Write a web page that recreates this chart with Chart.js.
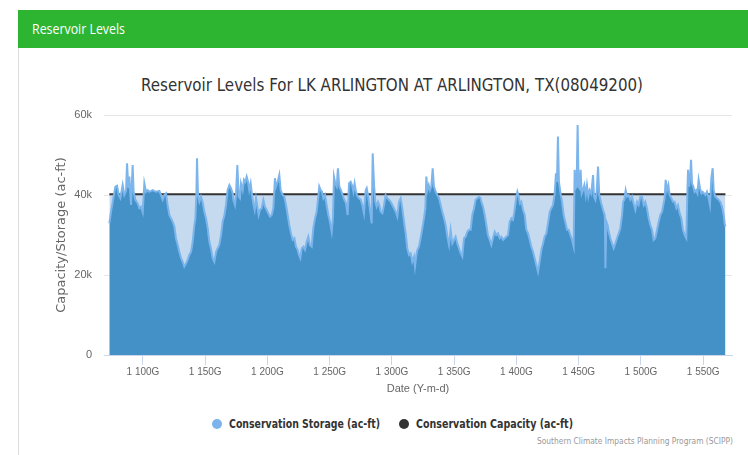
<!DOCTYPE html>
<html>
<head>
<meta charset="utf-8">
<script src="https://cdn.jsdelivr.net/npm/chart.js@4.4.1/dist/chart.umd.min.js"></script>
<style>
  html, body { margin:0; padding:0; background:#fff; width:748px; height:455px; overflow:hidden; }
  #wrap { position:relative; width:748px; height:455px; }
  #header { position:absolute; left:18px; top:10px; width:740px; height:38px; background:#2db431; }
  #panel { position:absolute; left:18px; top:48px; width:740px; height:420px; border-left:1px solid #dcdcdc; }
  .txt { position:absolute; white-space:nowrap; transform-origin:0 50%; }
  #htext { left:32px; top:19px; height:20px; line-height:20px; font-family:"Open Sans",sans-serif; font-size:14px; color:#fff; }
  #title { left:141px; top:73px; height:24px; line-height:24px; font-family:"DejaVu Sans",sans-serif; font-size:18px; color:#333; }
  .leg { top:416px; height:16px; line-height:16px; font-family:"DejaVu Sans",sans-serif; font-size:12px; font-weight:bold; color:#333; }
  .dot { position:absolute; width:10px; height:10px; border-radius:5px; top:419px; }
  #credits { left:537px; top:435px; height:12px; line-height:12px; font-family:"DejaVu Sans",sans-serif; font-size:9px; color:#999; }
  canvas { position:absolute; left:0; top:0; }
</style>
</head>
<body>
<div id="wrap">
  <div id="panel"></div>
  <div id="header"></div>
  <div class="txt" id="htext" data-w="93">Reservoir Levels</div>
  <div class="txt" id="title" data-w="502">Reservoir Levels For LK ARLINGTON AT ARLINGTON, TX(08049200)</div>
  <div class="dot" style="left:212px;background:#7cb5ec"></div>
  <div class="txt leg" style="left:229px" data-w="151">Conservation Storage (ac-ft)</div>
  <div class="dot" style="left:399px;background:#333333"></div>
  <div class="txt leg" style="left:416px" data-w="157">Conservation Capacity (ac-ft)</div>
  <div class="txt" id="credits" data-w="196">Southern Climate Impacts Planning Program (SCIPP)</div>
  <canvas id="c" width="748" height="455"></canvas>
</div>
<script>
// x values are timestamps in units of 1e9 ms ("G")
const dates = [
1073.0,1074.3,1075.7,1077.8,1079.2,1080.5,1081.8,1083.7,1085.0,1086.4,
1087.2,1088.3,1089.1,1089.9,1090.4,1091.7,1092.5,1093.9,1095.8,1097.1,
1098.4,1099.8,1101.1,1102.4,1103.8,1105.1,1107.8,1110.5,1113.2,1114.5,
1115.8,1117.2,1118.5,1119.8,1121.2,1122.5,1123.9,1125.2,1126.5,1127.9,
1129.2,1130.6,1131.9,1133.2,1134.6,1135.9,1137.2,1138.6,1139.9,1141.3,
1142.1,1142.9,1143.4,1144.2,1145.3,1146.6,1147.9,1149.3,1150.6,1152.0,
1153.3,1154.6,1156.0,1157.3,1158.7,1160.0,1161.3,1162.7,1164.0,1165.4,
1166.7,1168.0,1169.4,1170.7,1172.1,
1172.6,1173.9,1174.7,1175.8,1176.9,1177.9,1178.7,1180.1,1181.1,1182.2,
1183.3,1184.4,1185.4,1186.5,1187.6,1188.6,1189.7,1190.8,1191.9,1192.9,
1194.0,1195.3,1196.7,1198.0,1199.3,1200.7,1202.0,1203.4,1204.7,1206.0,
1206.8,1208.2,1209.5,1210.6,1212.2,1213.5,1214.9,1216.2,1217.5,1218.9,
1220.2,1221.6,1222.9,1224.2,1225.3,1226.4,1227.5,1228.8,1230.1,1231.5,
1232.8,1234.1,1235.5,1236.8,1238.2,1239.5,1240.8,1241.6,1242.7,1243.8,
1244.9,1246.2,1247.5,1248.9,1250.2,1251.6,1252.6,1253.4,1254.5,1255.6,
1256.6,1257.7,1259.0,1260.4,1261.7,1263.1,1264.4,1265.5,1266.8,1267.9,
1269.0,1270.0,1271.1,1272.4,
1273.5,1274.9,1276.2,1277.5,1278.9,1279.7,1280.7,1281.8,1282.9,1283.7,
1284.5,1285.6,1286.6,1287.7,1288.8,1289.8,1290.9,1292.3,1293.6,1294.9,
1296.3,1297.6,1299.0,1300.3,1301.6,1303.0,1304.3,1305.6,1307.0,1308.3,
1309.7,1311.0,1312.3,1313.7,1315.0,1316.3,1317.7,1318.5,1319.6,1320.4,
1321.7,1323.0,1324.4,1325.7,1326.8,1327.6,1328.4,1329.5,1330.5,1331.6,
1332.7,1333.7,1335.1,1336.4,1337.8,1339.1,1340.4,1341.8,1343.1,1344.5,
1345.8,1347.1,1348.5,1349.8,1351.1,1352.5,1353.8,1355.2,1356.5,1357.8,
1359.2,1360.5,1361.9,1363.2,1364.5,1365.9,1367.2,1368.5,1369.9,1371.2,
1371.8,1373.1,1374.5,1375.8,1377.1,1378.5,1379.8,1381.1,1382.5,1383.8,
1385.2,1386.5,1387.8,1389.2,1390.5,1391.9,1393.2,1394.5,1395.9,1397.2,
1398.5,1399.9,1400.7,1401.8,1402.8,1403.9,1405.2,1406.6,1407.9,1409.3,
1410.6,1411.9,1413.3,1414.6,1415.9,1417.3,1418.6,1420.0,1421.3,1422.6,
1424.0,1425.3,1426.7,1428.0,1429.3,1430.7,1431.7,1432.5,1433.3,1434.1,
1435.2,1436.6,1437.9,1439.2,1440.6,1441.9,1443.3,1444.6,1445.9,1446.7,
1447.5,1448.3,1449.1,1449.9,1450.7,1451.5,1452.4,1453.4,1454.5,1455.6,
1456.6,1457.7,1458.8,1460.1,1461.5,1462.3,1463.4,1464.4,1465.5,1466.5,
1468.1,1469.5,1470.8,
1471.0,1471.4,1472.2,1473.2,1474.1,1475.4,1476.7,1478.1,1479.4,1480.7,
1482.1,1483.4,1484.8,1485.6,1486.6,1487.7,1488.8,1490.1,1491.5,1492.8,
1494.1,1495.5,1496.8,1498.1,1499.5,1500.8,1502.2,1503.5,1504.8,1506.2,
1507.5,1508.9,1510.2,1511.5,1512.9,1514.2,1515.5,1516.9,1518.2,1519.0,
1519.8,1520.9,1522.0,1523.0,1524.4,1525.7,1527.1,1528.4,1529.7,1531.1,
1532.4,1533.7,1535.1,1536.4,1537.2,1537.8,1538.6,1539.4,1540.2,1541.0,
1542.0,1543.1,1544.2,1545.3,1546.3,1547.4,1548.5,1549.5,1550.6,1551.7,
1553.0,1554.4,1555.4,1556.5,1557.6,1558.4,1559.7,1561.1,1562.4,1563.7,
1565.1,1566.4,1567.2,1567.8
];

const storage = [
32900,35800,38300,42100,42300,40000,39200,42500,40000,41000,
47900,41700,44600,40000,37500,47500,40800,38800,37900,36700,
37100,35700,42900,40800,41200,40800,41200,40800,41000,40000,
38800,40000,40400,37500,35000,34200,33300,32100,29200,27500,
25800,24200,23300,22100,22900,23800,25000,25800,28300,32500,
34200,40400,49200,40000,38300,39600,38300,35800,34200,31700,
28300,26700,24200,23300,25800,26700,27500,30000,33300,35000,
37500,41200,42500,41700,40400,
38800,37500,40000,47500,39600,39200,42900,41200,43800,43300,
44600,43300,41200,42900,40000,37900,36300,39200,37100,35000,
36300,36700,38800,37100,36300,35400,34600,35000,36700,44200,
42100,43300,45000,41200,40000,39600,37500,35000,32500,30400,
28800,29200,27100,26300,25000,24200,26700,27100,26300,28300,
29600,27500,27100,31700,34200,35800,39600,42100,41200,40800,
39200,40000,37500,35000,33300,30800,34200,44600,42900,42100,
46700,42100,41200,40000,38800,37900,35000,42900,43300,42500,
40800,42900,40800,39600,
39200,38800,37500,35400,41200,41700,40000,37500,35000,32900,
50400,42500,38300,37100,38300,37500,35800,35400,37500,40000,
39200,38800,38300,37500,36700,35800,34600,38300,39200,36700,
33300,30400,26700,25000,25400,23300,24600,22100,25000,26300,
27100,29200,31700,34200,36700,44600,41200,42500,41200,42100,
46700,42100,40800,40000,39200,37500,35800,34200,32500,29600,
27500,31300,27900,28800,29600,27900,26700,25400,24600,29200,
29600,30800,31300,31300,35000,36700,38800,39200,39600,39200,
38300,37100,35000,32500,30000,28800,27500,29200,30800,30000,
30400,29200,29600,28800,29200,29600,30000,33300,34200,33800,
36300,39600,40800,39600,37900,38300,36300,35000,31300,30400,
28800,27100,25800,24200,22500,20800,23300,26300,27900,29600,
30400,32900,35800,36700,37500,40400,45400,43300,54600,43300,
40800,38300,35000,33300,31300,31300,30000,28800,27100,46300,
41700,42100,57500,42100,41700,46300,40400,41200,42500,40000,
42500,39600,41200,40400,45000,39600,38800,40800,47100,40000,
37900,36300,35000,
34000,21700,33300,32500,30800,29200,27900,26700,27900,29200,
30400,31700,35000,38300,38800,41200,39600,40000,38800,39600,
37900,36300,38300,37500,39600,39600,37500,38300,36700,34200,
32500,31300,28800,29200,31300,33300,35000,35800,37900,39200,
43800,41200,42500,40000,39200,38300,38300,36700,37500,35400,
34200,31300,30000,29200,40000,46300,42100,44200,48800,42900,
42100,40800,41200,40400,43800,41700,40400,40800,40400,40000,
40800,39200,37500,44200,46700,41200,39600,39200,38800,38300,
37100,35000,32900,32100
];

const capacityDates = [1073.0, 1567.8];
const capacity = [40188, 40188];

const xTickValues = [1100,1150,1200,1250,1300,1350,1400,1450,1500,1550];
const xTickLabels = ["1 100G","1 150G","1 200G","1 250G","1 300G","1 350G","1 400G","1 450G","1 500G","1 550G"];
const yTickValues = [0,20000,40000,60000];
const yTickLabels = ["0","20k","40k","60k"];

// fit HTML texts to measured widths
document.querySelectorAll('.txt[data-w]').forEach(el => {
  const w = el.getBoundingClientRect().width;
  const t = parseFloat(el.dataset.w);
  if (w > 0) el.style.transform = 'scaleX(' + (t / w) + ')';
});

const tickFont = { family: "'Liberation Sans', Arial, sans-serif", size: 11 };

new Chart(document.getElementById('c').getContext('2d'), {
  type: 'line',
  data: {
    datasets: [
      {
        label: 'Conservation Storage (ac-ft)',
        data: dates.map((d, i) => ({ x: d, y: storage[i] })),
        borderColor: '#7cb5ec',
        backgroundColor: '#4391c7',
        borderWidth: 2,
        fill: 'origin',
        pointRadius: 0,
        tension: 0,
        order: 1
      },
      {
        label: 'Conservation Capacity (ac-ft)',
        data: capacityDates.map((d, i) => ({ x: d, y: capacity[i] })),
        borderColor: '#333333',
        backgroundColor: '#c6daef',
        borderWidth: 2,
        fill: 'origin',
        pointRadius: 0,
        tension: 0,
        order: 2
      }
    ]
  },
  options: {
    responsive: false,
    animation: false,
    devicePixelRatio: 1,
    layout: { padding: { left: 0, right: 16, top: 115, bottom: 55 } },
    plugins: { legend: { display: false }, tooltip: { enabled: false }, title: { display: false } },
    scales: {
      x: {
        type: 'linear',
        min: 1068.7,
        max: 1573.1,
        afterBuildTicks: s => { s.ticks = xTickValues.map(v => ({ value: v })); },
        afterFit: s => { s.height = 45; },
        ticks: {
          callback: v => xTickLabels[xTickValues.indexOf(v)],
          color: '#666', font: { family: tickFont.family, size: 10 }, padding: 1, maxRotation: 0, autoSkip: false
        },
        grid: { drawOnChartArea: false, drawTicks: true, tickLength: 10, color: '#ccd6eb' },
        border: { display: true, color: '#ccd6eb' },
        title: { display: true, text: 'Date (Y-m-d)', color: '#666', font: { family: tickFont.family, size: 11 }, padding: { top: 0, bottom: 4 } }
      },
      y: {
        min: 0,
        max: 60000,
        afterBuildTicks: s => { s.ticks = yTickValues.map(v => ({ value: v })); },
        afterFit: s => { s.width = 104; },
        ticks: {
          callback: v => yTickLabels[yTickValues.indexOf(v)],
          color: '#666', font: tickFont, padding: 12
        },
        grid: { color: '#e6e6e6', drawTicks: false },
        border: { display: false },
        title: { display: true, text: 'Capacity/Storage (ac-ft)', color: '#666', font: { family: "'DejaVu Sans', sans-serif", size: 13 }, padding: { top: 54, bottom: 0 } }
      }
    }
  }
});
</script>
</body>
</html>
